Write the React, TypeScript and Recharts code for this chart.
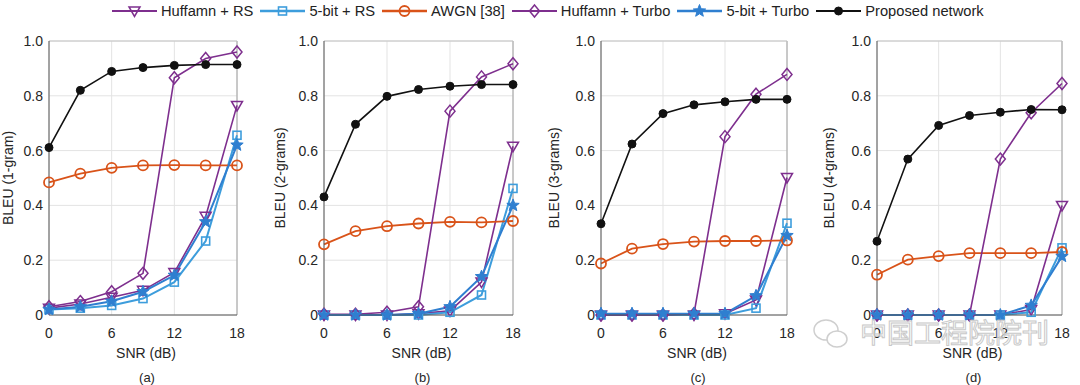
import React from 'react';
import { LineChart, Line, XAxis, YAxis, CartesianGrid, Label, ReferenceLine } from 'recharts';

// SNR points (dB)
const snr = [0, 3, 6, 9, 12, 15, 18];

// (a) 1-gram
const huffRs1 = [0.025, 0.04, 0.065, 0.09, 0.155, 0.36, 0.765];
const bitRs1 = [0.02, 0.025, 0.035, 0.06, 0.12, 0.27, 0.656];
const awgn1 = [0.484, 0.516, 0.537, 0.546, 0.547, 0.546, 0.546];
const huffTurbo1 = [0.03, 0.049, 0.085, 0.152, 0.866, 0.936, 0.96];
const bitTurbo1 = [0.02, 0.03, 0.05, 0.085, 0.145, 0.34, 0.62];
const proposed1 = [0.611, 0.82, 0.889, 0.903, 0.911, 0.914, 0.914];

// (b) 2-grams
const huffRs2 = [0, 0, 0, 0.005, 0.015, 0.12, 0.616];
const bitRs2 = [0, 0, 0, 0, 0.01, 0.073, 0.462];
const awgn2 = [0.258, 0.306, 0.324, 0.334, 0.34, 0.338, 0.343];
const huffTurbo2 = [0.003, 0.003, 0.01, 0.03, 0.744, 0.869, 0.917];
const bitTurbo2 = [0, 0, 0, 0.005, 0.03, 0.14, 0.4];
const proposed2 = [0.431, 0.696, 0.798, 0.823, 0.835, 0.841, 0.841];

// (c) 3-grams
const huffRs3 = [0, 0, 0, 0, 0.005, 0.055, 0.502];
const bitRs3 = [0, 0, 0, 0, 0, 0.025, 0.335];
const awgn3 = [0.188, 0.242, 0.259, 0.268, 0.27, 0.27, 0.272];
const huffTurbo3 = [0, 0, 0, 0.005, 0.651, 0.806, 0.878];
const bitTurbo3 = [0.005, 0.005, 0.005, 0.005, 0.005, 0.07, 0.29];
const proposed3 = [0.333, 0.624, 0.735, 0.767, 0.778, 0.787, 0.787];

// (d) 4-grams
const huffRs4 = [0, 0, 0, 0, 0, 0.02, 0.4];
const bitRs4 = [0, 0, 0, 0, 0, 0.01, 0.245];
const awgn4 = [0.147, 0.202, 0.215, 0.226, 0.226, 0.226, 0.23];
const huffTurbo4 = [0, 0, 0, 0, 0.569, 0.738, 0.845];
const bitTurbo4 = [0, 0, 0, 0, 0, 0.035, 0.214];
const proposed4 = [0.269, 0.569, 0.692, 0.728, 0.74, 0.75, 0.749];

const xTicks = [0, 6, 12, 18];
const yTicks = [0, 0.2, 0.4, 0.6, 0.8, 1.0];

const FONT = '"Liberation Sans", Arial, Helvetica, sans-serif';
const PURPLE = '#7E2F8E';
const BLUE_RS = '#3d9ddc';
const BLUE_TURBO = '#2f7fd0';
const ORANGE = '#D95319';

const SERIES = [
  { key: 'huffRs', name: 'Huffamn + RS', color: PURPLE, shape: 'tri', width: 1.6 },
  { key: 'bitRs', name: '5-bit + RS', color: BLUE_RS, shape: 'square', width: 2 },
  { key: 'awgn', name: 'AWGN [38]', color: ORANGE, shape: 'circle', width: 1.8 },
  { key: 'huffTurbo', name: 'Huffamn + Turbo', color: PURPLE, shape: 'diamond', width: 1.6 },
  { key: 'bitTurbo', name: '5-bit + Turbo', color: BLUE_TURBO, shape: 'star', width: 2 },
  { key: 'proposed', name: 'Proposed network', color: '#111', shape: 'dot', width: 1.6 },
];

const buildRows = (huffRs: number[], bitRs: number[], awgn: number[], huffTurbo: number[], bitTurbo: number[], proposed: number[]) =>
  snr.map((s, i) => ({
    snr: s,
    huffRs: huffRs[i],
    bitRs: bitRs[i],
    awgn: awgn[i],
    huffTurbo: huffTurbo[i],
    bitTurbo: bitTurbo[i],
    proposed: proposed[i],
  }));

const PANELS = [
  { id: 'a', ylabel: 'BLEU (1-gram)', rows: buildRows(huffRs1, bitRs1, awgn1, huffTurbo1, bitTurbo1, proposed1), left: 49, right: 237, labelDist: 41 },
  { id: 'b', ylabel: 'BLEU (2-grams)', rows: buildRows(huffRs2, bitRs2, awgn2, huffTurbo2, bitTurbo2, proposed2), left: 324, right: 513, labelDist: 44 },
  { id: 'c', ylabel: 'BLEU (3-grams)', rows: buildRows(huffRs3, bitRs3, awgn3, huffTurbo3, bitTurbo3, proposed3), left: 601, right: 787, labelDist: 47 },
  { id: 'd', ylabel: 'BLEU (4-grams)', rows: buildRows(huffRs4, bitRs4, awgn4, huffTurbo4, bitTurbo4, proposed4), left: 877, right: 1062, labelDist: 48 },
];

const starPoints = (cx: number, cy: number, R: number, r: number) => {
  const pts: string[] = [];
  for (let i = 0; i < 10; i++) {
    const a = -Math.PI / 2 + (i * Math.PI) / 5;
    const rad = i % 2 === 0 ? R : r;
    pts.push(`${cx + rad * Math.cos(a)},${cy + rad * Math.sin(a)}`);
  }
  return pts.join(' ');
};

const Marker = ({ shape, color, cx, cy }: { shape: string; color: string; cx: number; cy: number }) => {
  switch (shape) {
    case 'tri':
      return <polygon points={`${cx - 5.5},${cy - 4} ${cx + 5.5},${cy - 4} ${cx},${cy + 5.5}`} fill="none" stroke={color} strokeWidth={1.5} />;
    case 'square':
      return <rect x={cx - 4} y={cy - 4} width={8} height={8} fill="none" stroke={color} strokeWidth={1.6} />;
    case 'circle':
      return <circle cx={cx} cy={cy} r={5} fill="none" stroke={color} strokeWidth={1.8} />;
    case 'diamond':
      return <polygon points={`${cx},${cy - 6} ${cx + 5},${cy} ${cx},${cy + 6} ${cx - 5},${cy}`} fill="none" stroke={color} strokeWidth={1.5} />;
    case 'star':
      return <polygon points={starPoints(cx, cy, 6.5, 2.8)} fill={color} stroke={color} strokeWidth={1} />;
    default:
      return <circle cx={cx} cy={cy} r={4} fill={color} stroke={color} strokeWidth={1} />;
  }
};

const makeDot = (shape: string, color: string) => (p: any) => {
  if (p.cx == null || p.cy == null) return <g key={`e-${p.index}`} />;
  return (
    <g key={`m-${p.index}`}>
      <Marker shape={shape} color={color} cx={p.cx} cy={p.cy} />
    </g>
  );
};

const XTick = (p: any) => (
  <text x={p.x} y={p.y + 18} textAnchor="middle" dominantBaseline="central" fontSize={14} fontFamily={FONT} fill="#262626">
    {p.payload.value}
  </text>
);

const YTick = (p: any) => (
  <text x={p.x - 6} y={p.y} textAnchor="end" dominantBaseline="central" fontSize={14} fontFamily={FONT} fill="#262626">
    {p.payload.value === 0 ? '0' : Number(p.payload.value).toFixed(1)}
  </text>
);

const AXIS_W = 60;
const RIGHT = 14;
const TOP = 41;
const X_H = 50;
const BOTTOM = 20;
const H = 385;

const Panel = ({ panel }: { panel: (typeof PANELS)[number] }) => {
  const plotW = panel.right - panel.left;
  const width = AXIS_W + plotW + RIGHT;
  return (
    <div style={{ position: 'absolute', left: panel.left - AXIS_W, top: 0 }}>
      <LineChart width={width} height={H} data={panel.rows} margin={{ top: TOP, right: RIGHT, bottom: BOTTOM, left: 0 }}>
        <CartesianGrid stroke="#e3e3e3" strokeWidth={1} />
        <XAxis
          dataKey="snr"
          type="number"
          domain={[0, 18]}
          ticks={xTicks}
          tick={<XTick />}
          tickLine={false}
          tickSize={0}
          tickMargin={0}
          height={X_H}
          stroke="#555"
          interval={0}
        >
          <Label
            content={(lp: any) => {
              const vb = lp.viewBox;
              return (
                <text x={vb.x + vb.width / 2 + 3} y={vb.y + 38} textAnchor="middle" dominantBaseline="central" fontSize={14} fontFamily={FONT} fill="#262626">
                  SNR (dB)
                </text>
              );
            }}
          />
        </XAxis>
        <YAxis
          type="number"
          domain={[0, 1]}
          ticks={yTicks}
          tick={<YTick />}
          tickLine={false}
          tickSize={0}
          tickMargin={0}
          width={AXIS_W}
          stroke="#555"
          interval={0}
        >
          <Label
            content={(lp: any) => {
              const vb = lp.viewBox;
              const cx = vb.x + vb.width - panel.labelDist;
              const cy = vb.y + vb.height / 2;
              return (
                <text x={cx} y={cy} transform={`rotate(-90 ${cx} ${cy})`} textAnchor="middle" dominantBaseline="central" fontSize={14} fontFamily={FONT} fill="#262626">
                  {panel.ylabel}
                </text>
              );
            }}
          />
        </YAxis>
        <ReferenceLine x={18} stroke="#a0a0a0" strokeWidth={1} />
        <ReferenceLine y={1} stroke="#c4c4c4" strokeWidth={1} />
        {SERIES.map((s) => (
          <Line
            key={s.key}
            dataKey={s.key}
            name={s.name}
            type="linear"
            stroke={s.color}
            strokeWidth={s.width}
            dot={makeDot(s.shape, s.color)}
            activeDot={false}
            isAnimationActive={false}
          />
        ))}
      </LineChart>
      <div
        style={{
          position: 'absolute',
          left: AXIS_W + plotW / 2 + 4,
          top: 370,
          transform: 'translateX(-50%)',
          fontFamily: FONT,
          fontSize: 13,
          color: '#262626',
          whiteSpace: 'nowrap',
        }}
      >
        ({panel.id})
      </div>
    </div>
  );
};

const Legend = () => (
  <div
    style={{
      position: 'absolute',
      left: 112,
      top: 2,
      height: 18,
      display: 'flex',
      alignItems: 'center',
      fontFamily: FONT,
      fontSize: 14.7,
      color: '#222',
      whiteSpace: 'nowrap',
    }}
  >
    {SERIES.map((s) => (
      <div key={s.key} style={{ display: 'flex', alignItems: 'center', marginRight: 7 }}>
        <svg width={45} height={16} style={{ display: 'block' }}>
          <line x1={0} y1={8} x2={45} y2={8} stroke={s.color} strokeWidth={s.width + 0.5} />
          <Marker shape={s.shape} color={s.color} cx={22.5} cy={8} />
        </svg>
        <span style={{ marginLeft: 4 }}>{s.name}</span>
      </div>
    ))}
  </div>
);

const Watermark = () => (
  <svg width={260} height={50} style={{ position: 'absolute', left: 808, top: 310 }}>
    <ellipse cx={18} cy={20} rx={12} ry={10} fill="none" stroke="#cfcfcf" strokeWidth={1.5} />
    <ellipse cx={29} cy={29} rx={10} ry={8} fill="#fff" stroke="#cfcfcf" strokeWidth={1.5} />
    <text x={52} y={33} fontSize={27} fontFamily='"Noto Sans CJK SC", sans-serif' fill="#ffffff" fillOpacity={0.6} stroke="#c8c8c8" strokeWidth={1}>
      中国工程院院刊
    </text>
  </svg>
);

export default function App() {
  return (
    <div style={{ position: 'absolute', left: 0, top: 0, width: 1080, height: 385, background: '#fff', overflow: 'hidden' }}>
      <Legend />
      {PANELS.map((p) => (
        <Panel key={p.id} panel={p} />
      ))}
      <Watermark />
    </div>
  );
}
